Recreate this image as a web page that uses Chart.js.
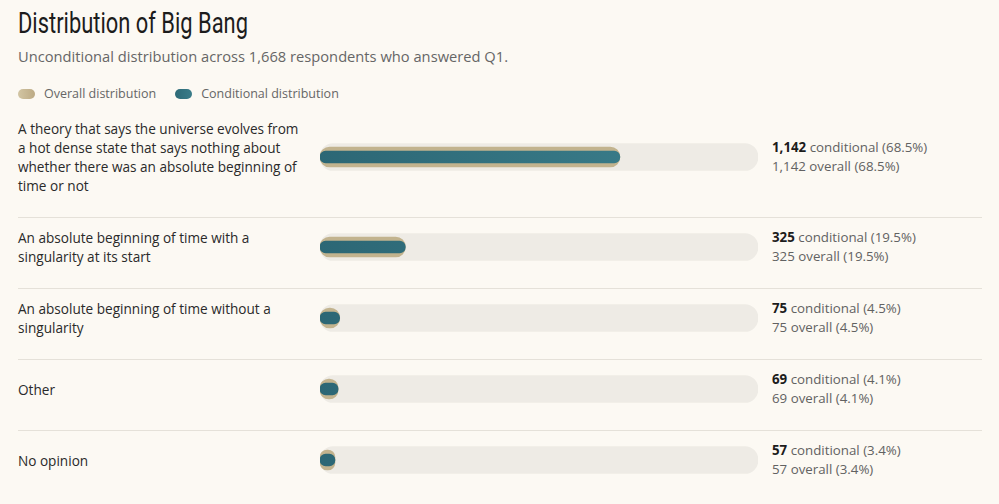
<!DOCTYPE html>
<html><head><meta charset="utf-8">
<script src="https://cdn.jsdelivr.net/npm/chart.js@4/dist/chart.umd.min.js"></script>
<style>
html,body{margin:0;padding:0;background:#fcf9f3;width:999px;height:504px;overflow:hidden;}
body{font-family:"Open Sans",Lato,sans-serif;color:#222;position:relative;}
#title{position:absolute;left:18px;top:5px;font-family:Roboto,"Open Sans",sans-serif;font-size:29px;line-height:36px;color:#1c1c1c;white-space:nowrap;transform-origin:0 0;}
#subtitle{position:absolute;left:18px;top:47px;font-size:14px;line-height:20px;color:#666;white-space:nowrap;transform-origin:0 0;}
#legend{position:absolute;left:18px;top:85px;font-size:12.5px;line-height:17px;color:#666;display:flex;align-items:center;white-space:nowrap;}
#legend .item{display:flex;align-items:center;margin-right:19px;}
#legend .sw{width:17px;height:10px;border-radius:5px;margin-right:9px;}
#rows{position:absolute;left:18px;top:109px;width:964px;}
.row{display:flex;align-items:center;padding:10px 0 22px 0;border-top:1px solid #e5e1d9;}
.row:first-child{border-top:none;}
.label{width:284px;margin-right:18px;font-size:13.6px;line-height:19px;color:#2a2a2a;}
.chartbox{position:relative;width:438px;height:38px;flex:none;}
.vals{margin-left:14px;font-size:13.3px;line-height:19px;color:#626262;white-space:nowrap;}
.vals b{color:#1c1c1c;font-weight:700;}
</style></head>
<body>
<div id="title"></div>
<div id="subtitle"></div>
<div id="legend"></div>
<div id="rows"></div>
<script>
const chartTitle = "Distribution of Big Bang";
const chartSubtitle = "Unconditional distribution across 1,668 respondents who answered Q1.";
const seriesNames = ["Overall distribution", "Conditional distribution"];
const categories = [
  "A theory that says the universe evolves from a hot dense state that says nothing about whether there was an absolute beginning of time or not",
  "An absolute beginning of time with a singularity at its start",
  "An absolute beginning of time without a singularity",
  "Other",
  "No opinion"
];
const overallCounts = [1142, 325, 75, 69, 57];
const conditionalCounts = [1142, 325, 75, 69, 57];
const overallPct = ["68.5%", "19.5%", "4.5%", "4.1%", "3.4%"];
const conditionalPct = ["68.5%", "19.5%", "4.5%", "4.1%", "3.4%"];
const totalRespondents = 1668;

const TAN = '#c2b38e';
const TEAL = '#357482';
const TRACK = '#eeebe5';

const titleEl = document.getElementById('title');
titleEl.textContent = chartTitle;
const subEl = document.getElementById('subtitle');
subEl.textContent = chartSubtitle;
// fit header text widths to the reference design widths
function fitWidth(el, w) { const cur = el.getBoundingClientRect().width; if (cur > 0) el.style.transform = 'scaleX(' + (w / cur) + ')'; }
fitWidth(titleEl, 230);
fitWidth(subEl, 490);

const legend = document.getElementById('legend');
[[seriesNames[0], 'linear-gradient(90deg,#d2c5a3,#bcaa84)'], [seriesNames[1], 'linear-gradient(90deg,#2d6a77,#3a7c89)']].forEach(([n, c]) => {
  const it = document.createElement('div'); it.className = 'item';
  const sw = document.createElement('span'); sw.className = 'sw'; sw.style.background = c;
  const tx = document.createElement('span'); tx.textContent = n;
  it.appendChild(sw); it.appendChild(tx); legend.appendChild(it);
});

const fmt = n => n.toLocaleString('en-US');
const rows = document.getElementById('rows');

function tealGrad(ctx) {
  const chart = ctx.chart; const a = chart.chartArea;
  if (!a) return TEAL;
  const g = chart.ctx.createLinearGradient(a.left, 0, a.right, 0);
  g.addColorStop(0, '#2c6775'); g.addColorStop(1, '#3d828f');
  return g;
}

categories.forEach((cat, i) => {
  const row = document.createElement('div'); row.className = 'row';
  const lab = document.createElement('div'); lab.className = 'label'; lab.textContent = cat;
  const box = document.createElement('div'); box.className = 'chartbox';
  const cv = document.createElement('canvas'); box.appendChild(cv);
  const vals = document.createElement('div'); vals.className = 'vals';
  vals.innerHTML = '<b>' + fmt(conditionalCounts[i]) + '</b> conditional (' + conditionalPct[i] + ')<br>' +
    fmt(overallCounts[i]) + ' overall (' + overallPct[i] + ')';
  row.appendChild(lab); row.appendChild(box); row.appendChild(vals);
  rows.appendChild(row);

  new Chart(cv, {
    type: 'bar',
    data: {
      labels: [cat],
      datasets: [
        { label: 'track', data: [totalRespondents], backgroundColor: TRACK, barThickness: 27, borderRadius: 14, borderSkipped: false, grouped: false, order: 3 },
        { label: seriesNames[0], data: [overallCounts[i]], backgroundColor: TAN, barThickness: 20, borderRadius: 10, borderSkipped: false, grouped: false, order: 2 },
        { label: seriesNames[1], data: [conditionalCounts[i]], backgroundColor: tealGrad, barThickness: 12, borderRadius: 6, borderSkipped: false, grouped: false, order: 1 }
      ]
    },
    options: {
      indexAxis: 'y',
      responsive: true,
      maintainAspectRatio: false,
      animation: false,
      layout: { padding: 0 },
      plugins: { legend: { display: false }, tooltip: { enabled: false } },
      scales: {
        x: { display: false, min: 0, max: totalRespondents },
        y: { display: false }
      }
    }
  });
});
</script>
</body></html>
